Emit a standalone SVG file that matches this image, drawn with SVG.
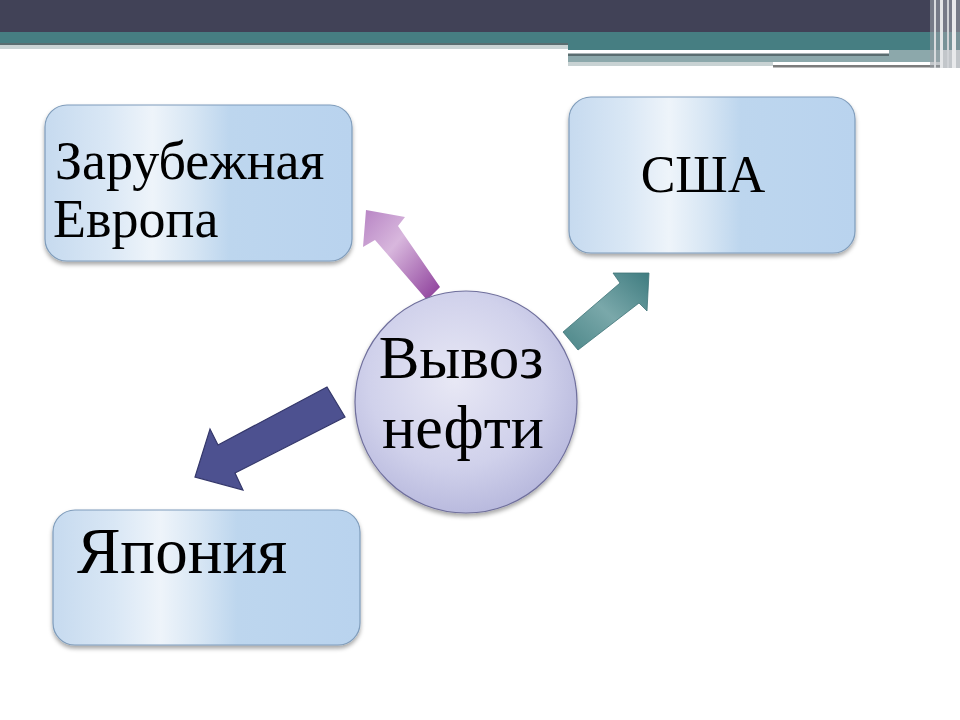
<svg xmlns="http://www.w3.org/2000/svg" width="960" height="720" viewBox="0 0 960 720">
<defs>
<style>
.box{fill:url(#boxg);stroke:#7f9cbb;stroke-width:1.2;filter:url(#sh)}
.lbl{font-family:"Liberation Serif","Times New Roman",serif;fill:#000}
</style>
<linearGradient id="boxg" x1="0" y1="0" x2="1" y2="0">
<stop offset="0" stop-color="#c6daef"/>
<stop offset="0.2" stop-color="#d9e7f5"/>
<stop offset="0.35" stop-color="#eef4fa"/>
<stop offset="0.48" stop-color="#d7e6f4"/>
<stop offset="0.6" stop-color="#bdd6ee"/>
<stop offset="1" stop-color="#b9d3ee"/>
</linearGradient>
<radialGradient id="circg" cx="0.45" cy="0.4" r="0.65">
<stop offset="0" stop-color="#e8e8f5"/>
<stop offset="0.6" stop-color="#d0d1eb"/>
<stop offset="1" stop-color="#b4b5db"/>
</radialGradient>
<linearGradient id="purg" x1="0" y1="0" x2="1" y2="1">
<stop offset="0" stop-color="#b784c4"/>
<stop offset="0.4" stop-color="#d8b7dd"/>
<stop offset="1" stop-color="#8a3a98"/>
</linearGradient>
<linearGradient id="tealg" x1="0" y1="1" x2="1" y2="0">
<stop offset="0" stop-color="#4b8688"/>
<stop offset="0.5" stop-color="#7aa8aa"/>
<stop offset="1" stop-color="#3f7c80"/>
</linearGradient>
<filter id="sh" x="-10%" y="-10%" width="120%" height="130%">
<feDropShadow dx="0" dy="3" stdDeviation="2" flood-color="#000" flood-opacity="0.35"/>
</filter>
</defs>
<rect width="960" height="720" fill="#fff"/>
<g id="header">
<rect x="0" y="0" width="960" height="32" fill="#414257"/>
<rect x="0" y="32" width="568" height="11" fill="#467e82"/>
<rect x="0" y="43" width="568" height="2" fill="#5a6d70"/>
<rect x="0" y="45" width="568" height="4" fill="#c9d3d4"/>
<rect x="568" y="32" width="392" height="18" fill="#467e82"/>
<rect x="568" y="50" width="321" height="3.5" fill="#ffffff"/>
<rect x="568" y="53.5" width="321" height="2.5" fill="#5a6d70"/>
<rect x="568" y="56" width="205" height="6" fill="#8ca8ab"/>
<rect x="568" y="62" width="205" height="4" fill="#c8d2d3"/>
<rect x="889" y="50" width="54" height="12" fill="#8ca8ab"/>
<rect x="773" y="56" width="116" height="6" fill="#8ca8ab"/>
<rect x="773" y="62" width="170" height="3" fill="#ffffff"/>
<rect x="773" y="65" width="170" height="2.5" fill="#7c7c7c"/>
<rect x="930" y="0" width="30" height="68" fill="#9aa0a6" opacity="0.6"/>
<rect x="934" y="0" width="2" height="68" fill="#d8dadd"/>
<rect x="940" y="0" width="3" height="68" fill="#e4e6e8"/>
<rect x="947" y="0" width="2" height="68" fill="#cfd2d6"/>
<rect x="952" y="0" width="4" height="68" fill="#e8e9eb"/>
</g>
<g id="connectors">
<polygon points="366,210 405,217 398,226 440,287 427,300 375,240 363,247" fill="url(#purg)"/>
<polygon points="649,273 613,273 620,283 563,332 578,350 639,303 647,311" fill="url(#tealg)" stroke="#3f7477" stroke-width="0.8"/>
<polygon points="327,387 345,417 235,473 243,490 195,477 210,429 218,445" fill="#4d5190" stroke="#34376a" stroke-width="1.2"/>
</g>
<g id="node-europe">
<rect class="box" x="45" y="105" width="307" height="156" rx="22"/>
<text class="lbl" x="55" y="179" font-size="54">Зарубежная</text>
<text class="lbl" x="53" y="237" font-size="54">Европа</text>
</g>
<g id="node-usa">
<rect class="box" x="569" y="97" width="286" height="156" rx="22"/>
<text class="lbl" x="703" y="192" font-size="52" text-anchor="middle">США</text>
</g>
<g id="node-japan">
<rect class="box" x="53" y="510" width="307" height="135" rx="22"/>
<text class="lbl" x="77" y="573" font-size="65">Япония</text>
</g>
<g id="node-center">
<circle cx="466" cy="402" r="111" fill="url(#circg)" stroke="#6f6f9c" stroke-width="1.2" filter="url(#sh)"/>
<text class="lbl" x="461" y="378" font-size="61" text-anchor="middle">Вывоз</text>
<text class="lbl" x="463" y="448" font-size="62" text-anchor="middle">нефти</text>
</g>
</svg>
